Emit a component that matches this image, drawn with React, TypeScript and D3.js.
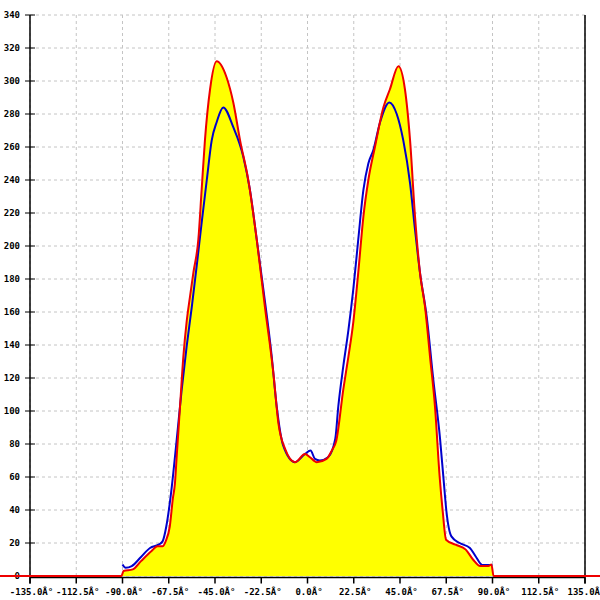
import React from "react";
import * as d3 from "d3";

const xTicks = [-135, -112.5, -90, -67.5, -45, -22.5, 0, 22.5, 45, 67.5, 90, 112.5, 135];
const xTickLabels = ["-135.0Â°", "-112.5Â°", "-90.0Â°", "-67.5Â°", "-45.0Â°", "-22.5Â°", "0.0Â°", "22.5Â°", "45.0Â°", "67.5Â°", "90.0Â°", "112.5Â°", "135.0Â°"];
const yTicks = [0, 20, 40, 60, 80, 100, 120, 140, 160, 180, 200, 220, 240, 260, 280, 300, 320, 340];

const redAngles = [-150, -90.5, -89.5, -85, -81, -76, -73, -70.5, -69, -67, -65.5, -64.5, -63.6, -62, -60.4, -58.8, -57.2, -55.5, -53.1, -51.5, -49.9, -47.4, -44.2, -39.3, -36.1, -32.8, -28.8, -24.7, -20.7, -16.6, -14.2, -10.9, -6.1, -1.2, 1.2, 4.5, 9.3, 11.8, 14, 17.4, 19.9, 22.3, 24.7, 27.2, 29.6, 32.8, 36.9, 40.1, 44.2, 47.4, 49.9, 52.3, 54.7, 57.2, 59.6, 62, 64.3, 65.8, 67.4, 72, 77, 80.5, 84, 88, 89.5, 90.5, 150];
const redValues = [0, 0, 3, 4, 9, 15, 18, 18, 21, 30, 47, 56, 73, 103, 133, 154, 169, 184, 204, 234, 264, 295, 312, 302, 287, 264, 240, 204, 163, 123, 93, 77, 69, 74, 72, 69, 71, 76, 82, 113, 133, 154, 184, 218, 240, 260, 284, 295, 309, 295, 264, 218, 184, 163, 133, 103, 60, 39, 22, 19, 16, 10, 6, 6, 7, 0, 0];

const blueAngles = [-90, -88.5, -85.5, -81, -76.6, -72.5, -70.5, -68.7, -66.5, -63.6, -61.2, -58.8, -56.3, -53.9, -51.5, -49, -46.6, -44.2, -41, -36.1, -31.2, -28, -24.7, -21.5, -17.4, -15, -11.8, -6.1, -1.2, 1.5, 3.6, 6, 10, 13.5, 15, 17.4, 19.9, 22.3, 24.7, 27.2, 29.6, 32, 35.3, 39.8, 43.4, 46.6, 49.9, 52.3, 54.7, 58, 61.2, 64.5, 66.3, 67.6, 70, 74, 79, 82, 85, 90];
const blueValues = [7, 5, 6, 11.5, 17, 19, 21, 30, 49, 83, 113, 139, 163, 188, 214, 240, 264, 275, 284, 272, 254, 234, 204, 174, 133, 103, 79, 69, 74, 76, 71, 70, 72, 83, 103, 127, 149, 174, 204, 234, 250, 258, 275, 287, 280, 264, 238, 210, 184, 157, 119, 83, 57, 39, 24, 20, 17, 11.5, 6.7, 6.7];

export default function App() {
  const W = 600, H = 600;
  const left = 30, right = 585, top = 15, bottom = 576;
  const x = d3.scaleLinear().domain([-135, 135]).range([left, right]);
  const y = d3.scaleLinear().domain([0, 340]).range([bottom, top]);

  const red = redAngles.map((a, i) => [a, redValues[i]] as [number, number]);
  const blue = blueAngles.map((a, i) => [a, blueValues[i]] as [number, number]);

  const line = d3.line<[number, number]>().x(d => x(d[0])).y(d => y(d[1])).curve(d3.curveMonotoneX);
  const area = d3.area<[number, number]>().x(d => x(d[0])).y0(y(0)).y1(d => y(d[1])).curve(d3.curveMonotoneX);

  const font = "'DejaVu Sans Mono', monospace";
  const axisY = bottom + 1.5;

  return (
    <svg width={W} height={H} style={{ position: "absolute", left: 0, top: 0, background: "#fff" }}>
      {xTicks.map((t, i) => (
        <line key={"gx" + i} x1={x(t)} x2={x(t)} y1={top} y2={axisY} stroke="#c4c4c4" strokeDasharray="3,3" />
      ))}
      {yTicks.map((t, i) => (
        <line key={"gy" + i} x1={left} x2={right} y1={y(t)} y2={y(t)} stroke="#c4c4c4" strokeDasharray="3,3" />
      ))}
      <path d={area(red) || ""} fill="#ffff00" />
      <line x1={left} x2={left} y1={top} y2={axisY + 6} stroke="#000" strokeWidth={1.5} />
      <line x1={right} x2={right} y1={top} y2={axisY + 6} stroke="#000" strokeWidth={1.5} />
      <line x1={left} x2={right} y1={axisY} y2={axisY} stroke="#000" strokeWidth={1.5} />
      {yTicks.map((t, i) => (
        <g key={"yt" + i}>
          <line x1={left - 5} x2={left + 5} y1={y(t)} y2={y(t)} stroke="#000" />
          <text x={20} y={y(t)} dy="0.35em" textAnchor="end" fontFamily={font} fontSize={9} fontWeight="bold" fill="#000">{t}</text>
        </g>
      ))}
      {xTicks.map((t, i) => (
        <g key={"xt" + i}>
          <line x1={x(t)} x2={x(t)} y1={axisY} y2={axisY + 6} stroke="#000" strokeWidth={1.5} />
          <text x={x(t) + 1.5} y={595} textAnchor="middle" fontFamily={font} fontSize={9} fontWeight="bold" fill="#000">{xTickLabels[i]}</text>
        </g>
      ))}
      <path d={line(blue) || ""} fill="none" stroke="#0000cc" strokeWidth={2} />
      <path d={line(red) || ""} fill="none" stroke="#ee0000" strokeWidth={2} />
    </svg>
  );
}
